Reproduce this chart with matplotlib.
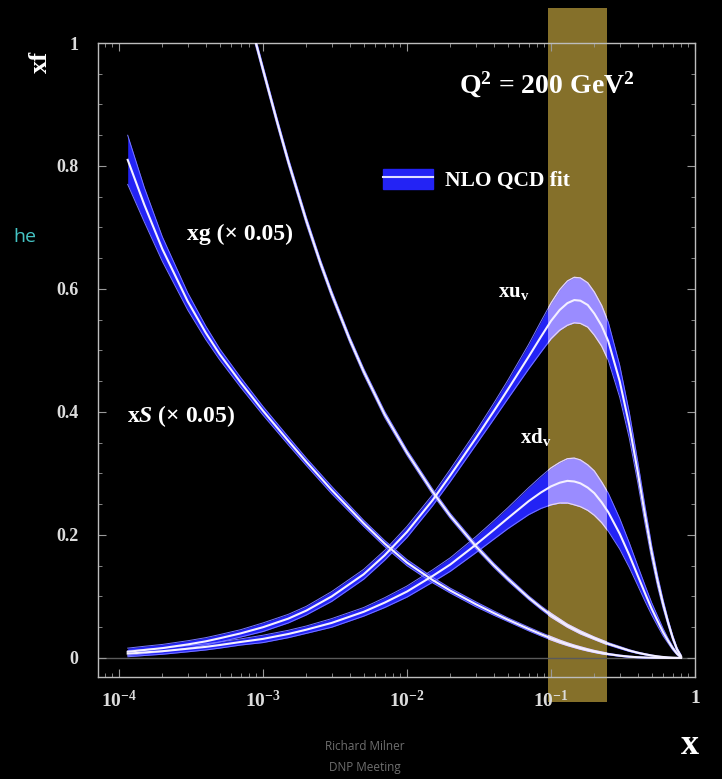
import numpy as np
import matplotlib
matplotlib.use('Agg')
import matplotlib.pyplot as plt
from matplotlib.patches import Patch
from matplotlib.lines import Line2D
from matplotlib.path import Path
from matplotlib.ticker import MultipleLocator, LogLocator, NullFormatter

plt.rcParams['mathtext.fontset'] = 'custom'
plt.rcParams['mathtext.rm'] = 'Liberation Serif:bold'
plt.rcParams['mathtext.it'] = 'Liberation Serif:italic:bold'
plt.rcParams['mathtext.bf'] = 'Liberation Serif:bold'

# x grid for sea and valence curves (Q^2 = 200 GeV^2)
x = [1.15e-4, 1.5e-4, 2e-4, 3e-4, 4e-4, 5e-4, 7e-4, 1e-3, 1.5e-3, 2e-3, 3e-3, 5e-3, 7e-3,
     0.01, 0.015, 0.02, 0.03, 0.04, 0.05, 0.07, 0.085, 0.1, 0.115, 0.13, 0.145, 0.16,
     0.18, 0.2, 0.225, 0.25, 0.3, 0.35, 0.4, 0.45, 0.5, 0.55, 0.6, 0.65, 0.7, 0.75, 0.8]

xuv = [0.010, 0.013, 0.016, 0.022, 0.027, 0.032, 0.040, 0.050, 0.064, 0.077, 0.100, 0.136, 0.167,
       0.205, 0.256, 0.297, 0.357, 0.401, 0.436, 0.490, 0.522, 0.548, 0.566, 0.577, 0.582, 0.581,
       0.574, 0.560, 0.540, 0.515, 0.450, 0.378, 0.303, 0.232, 0.172, 0.125, 0.088, 0.058, 0.033, 0.014, 0.003]
xuv_err = [0.006, 0.006, 0.006, 0.006, 0.006, 0.006, 0.006, 0.007, 0.007, 0.007, 0.008, 0.008, 0.008,
           0.009, 0.009, 0.010, 0.011, 0.013, 0.015, 0.020, 0.025, 0.029, 0.033, 0.036, 0.037, 0.037,
           0.036, 0.035, 0.033, 0.031, 0.026, 0.021, 0.017, 0.014, 0.011, 0.009, 0.007, 0.005, 0.004, 0.003, 0.002]

xdv = [0.007, 0.009, 0.011, 0.015, 0.018, 0.021, 0.026, 0.031, 0.039, 0.046, 0.057, 0.075, 0.090,
       0.108, 0.133, 0.152, 0.184, 0.208, 0.227, 0.255, 0.269, 0.279, 0.285, 0.288, 0.287, 0.284,
       0.277, 0.268, 0.253, 0.237, 0.202, 0.167, 0.134, 0.105, 0.080, 0.060, 0.042, 0.028, 0.016, 0.007, 0.001]
xdv_err = [0.005, 0.005, 0.005, 0.005, 0.005, 0.005, 0.005, 0.006, 0.006, 0.006, 0.007, 0.007, 0.008,
           0.009, 0.010, 0.011, 0.013, 0.015, 0.017, 0.022, 0.026, 0.030, 0.033, 0.036, 0.038, 0.038,
           0.037, 0.036, 0.033, 0.031, 0.025, 0.020, 0.016, 0.013, 0.010, 0.008, 0.006, 0.004, 0.003, 0.002, 0.001]

xS = [0.810, 0.737, 0.665, 0.580, 0.529, 0.494, 0.448, 0.402, 0.353, 0.319, 0.273, 0.219, 0.186,
      0.155, 0.127, 0.1095, 0.0875, 0.0731, 0.0624, 0.0471, 0.0387, 0.032, 0.0266, 0.0224, 0.019, 0.0162,
      0.0131, 0.0106, 0.0082, 0.0063, 0.0037, 0.0021, 0.0012, 0.0007, 0.0004, 0.0002, 0.0001, 0.0,
      0.0, 0.0, 0.0]
xS_err = [0.040, 0.028, 0.020, 0.014, 0.011, 0.009, 0.008, 0.007, 0.0065, 0.006, 0.006, 0.005, 0.005,
          0.005, 0.0045, 0.004, 0.004, 0.0035, 0.003, 0.003, 0.0028, 0.0026, 0.0024, 0.0022, 0.002, 0.002,
          0.0018, 0.0016, 0.0015, 0.0013, 0.0011, 0.001, 0.0008, 0.0007, 0.0006, 0.0005, 0.0004, 0.0003,
          0.0002, 0.0001, 0.0]

# gluon enters from above the frame
x_g = [8e-4, 1e-3, 1.25e-3, 1.5e-3, 2e-3, 2.5e-3, 3e-3, 4e-3, 5e-3, 7e-3,
       0.01, 0.015, 0.02, 0.03, 0.04, 0.05, 0.07, 0.085, 0.1, 0.13, 0.16, 0.2, 0.25,
       0.3, 0.35, 0.4, 0.45, 0.5, 0.55, 0.6, 0.65, 0.7, 0.75, 0.8]
xg = [1.042, 0.957, 0.873, 0.807, 0.711, 0.643, 0.592, 0.518, 0.466, 0.396,
      0.334, 0.271, 0.231, 0.182, 0.151, 0.129, 0.098, 0.082, 0.0696, 0.0525, 0.0417, 0.032, 0.023,
      0.017, 0.012, 0.0085, 0.006, 0.004, 0.0026, 0.0016, 0.0009, 0.0005, 0.0002, 0.0]
xg_err = [0.006, 0.006, 0.006, 0.006, 0.006, 0.0055, 0.0055, 0.005, 0.005, 0.005,
          0.0045, 0.0045, 0.004, 0.004, 0.0035, 0.0035, 0.003, 0.003, 0.003, 0.0025, 0.0025, 0.002, 0.002,
          0.0018, 0.0015, 0.0012, 0.001, 0.0008, 0.0006, 0.0005, 0.0004, 0.0003, 0.0002, 0.0]

# highlighted x range
band_x = [0.095, 0.245]

xticks = [1e-4, 1e-3, 1e-2, 1e-1, 1]
xticklabels = [r'$10^{-4}$', r'$10^{-3}$', r'$10^{-2}$', r'$10^{-1}$', '1']
yticks = [0, 0.2, 0.4, 0.6, 0.8, 1]
yticklabels = ['0', '0.2', '0.4', '0.6', '0.8', '1']

BLUE = '#2323f5'
LAV = '#9a8cff'
EDGE = '#7878ff'
GOLD = '#85702a'
FG = '#dcdcdc'
serif = 'Liberation Serif'

fig = plt.figure(figsize=(7.22, 7.79), dpi=100, facecolor='black')
ax = fig.add_axes([0.1357, 0.1309, 0.8269, 0.8139])
ax.set_facecolor('black')
ax.set_xscale('log')
ax.set_xlim(7.15e-5, 1.0)
ax.set_ylim(-0.031, 1.0)

# gold band, running past the frame
band_lo, band_hi = -0.0715, 1.057
ax.fill_between(band_x, band_lo, band_hi, color=GOLD, lw=0, zorder=0.5, clip_on=False)
band_path = Path([(band_x[0], band_lo), (band_x[1], band_lo), (band_x[1], band_hi),
                  (band_x[0], band_hi), (band_x[0], band_lo)], closed=True)

ax.axhline(0, color='#5a5a5a', lw=1.0, zorder=0.8)


def draw_pdf(xs, c, e):
    xs = np.array(xs)
    c = np.array(c)
    e = np.array(e)
    lo, hi = c - e, c + e
    ax.fill_between(xs, lo, hi, color=BLUE, lw=0, zorder=2)
    ax.plot(xs, lo, color=EDGE, lw=0.7, zorder=2.1)
    ax.plot(xs, hi, color=EDGE, lw=0.7, zorder=2.1)
    # over the gold band the fit shows lighter
    f = ax.fill_between(xs, lo, hi, color=LAV, lw=0, zorder=2.2)
    f.set_clip_path(band_path, ax.transData)
    for yy in (lo, hi):
        ln, = ax.plot(xs, yy, color='#e8d8f0', lw=0.9, zorder=2.3)
        ln.set_clip_path(band_path, ax.transData)
    ax.plot(xs, c, color='#f4f0ff', lw=1.5, zorder=3)


draw_pdf(x, xS, xS_err)
draw_pdf(x_g, xg, xg_err)
draw_pdf(x, xdv, xdv_err)
draw_pdf(x, xuv, xuv_err)

# axes styling
for s in ax.spines.values():
    s.set_color('#bdbdbd')
    s.set_linewidth(1.0)
ax.set_xticks(xticks)
ax.set_xticklabels(xticklabels)
ax.set_yticks(yticks)
ax.set_yticklabels(yticklabels)
ax.xaxis.set_minor_locator(LogLocator(base=10, subs=np.arange(2, 10)))
ax.xaxis.set_minor_formatter(NullFormatter())
ax.yaxis.set_minor_locator(MultipleLocator(0.05))
ax.tick_params(which='both', direction='in', top=True, right=True, colors='#9a9a9a')
ax.tick_params(which='major', length=6, width=0.8)
ax.tick_params(which='minor', length=3, width=0.6)
ax.tick_params(axis='y', pad=14, labelcolor=FG, labelsize=13)
ax.tick_params(axis='x', pad=9, labelcolor=FG, labelsize=14)
for lab in ax.get_yticklabels() + ax.get_xticklabels():
    lab.set_family(serif)
    lab.set_weight('bold')

# curve labels
tk = dict(color='white', family=serif, weight='bold')
ax.text(2.97e-4, 0.688, 'xg (× 0.05)', fontsize=17, va='center', **tk)
ax.text(1.14e-4, 0.394, r'x$\mathit{S}$ (× 0.05)', fontsize=17, va='center', **tk)
ax.text(0.0428, 0.595, r'xu$_\mathrm{v}$', fontsize=15, va='center', **tk)
ax.text(0.061, 0.36, r'xd$_\mathrm{v}$', fontsize=15, va='center', **tk)
ax.text(0.752, 0.934, r'Q$^2$ = 200 GeV$^2$', fontsize=20, ha='center', va='center',
        transform=ax.transAxes, zorder=5, **tk)

handle = (Patch(facecolor=BLUE, edgecolor=BLUE), Line2D([], [], color='#e0e0ff', lw=1.5))
leg = ax.legend([handle], ['NLO QCD fit'], loc='center left', bbox_to_anchor=(0.4774, 0.784),
                frameon=False, handlelength=2.3, handleheight=1.1, handletextpad=0.6,
                borderpad=0, borderaxespad=0,
                prop={'family': serif, 'weight': 'bold', 'size': 15.5})
leg.get_texts()[0].set_color('white')
leg.set_zorder(5)

fig.text(40 / 722, 1 - 62 / 779, 'xf', rotation=90, ha='center', va='center',
         fontsize=19, **tk)
fig.text(690 / 722, 1 - 745 / 779, 'x', ha='center', va='center', fontsize=26, **tk)
fig.text(25 / 722, 1 - 237 / 779, 'he', ha='center', va='center', fontsize=14,
         color='#45c4c4', family='Open Sans')
fig.text(365 / 722, 1 - 746 / 779, 'Richard Milner', ha='center', va='center', fontsize=8.5,
         color='#6e6e6e', family='Open Sans')
fig.text(365 / 722, 1 - 768 / 779, 'DNP Meeting', ha='center', va='center', fontsize=8.5,
         color='#6e6e6e', family='Open Sans')

fig.savefig('out.png', dpi=100, facecolor='black')
